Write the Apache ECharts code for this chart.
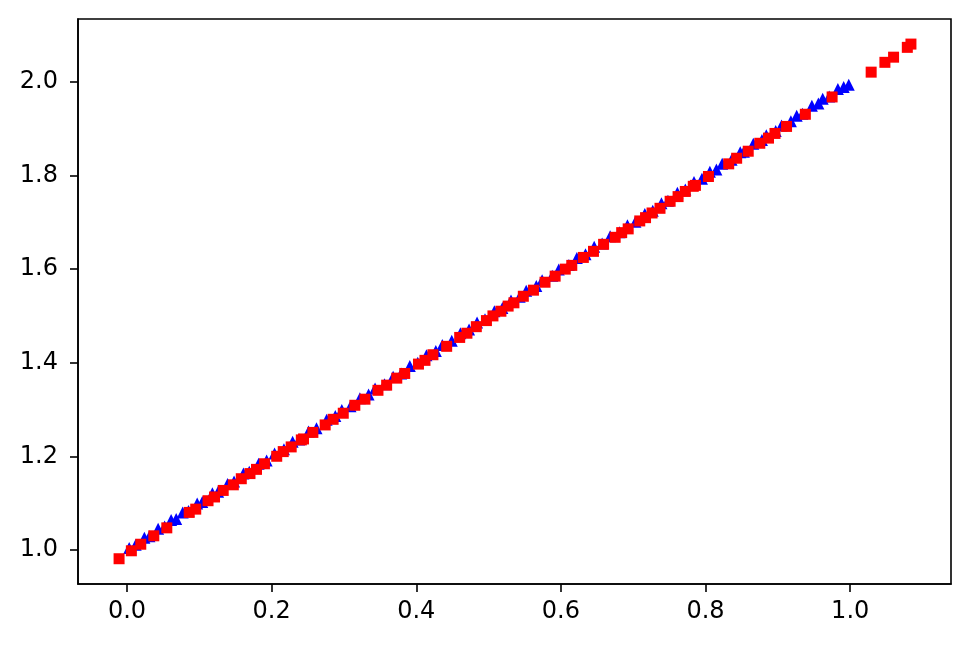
<!DOCTYPE html>
<html>
<head>
<meta charset="utf-8">
<script src="https://cdn.jsdelivr.net/npm/echarts@6/dist/echarts.min.js"></script>
<style>
  html, body { margin: 0; padding: 0; background: #fff; }
  #chart { width: 969px; height: 648px; }
</style>
</head>
<body>
<div id="chart"></div>
<script>
// tick positions
const xTicks = [0.0, 0.2, 0.4, 0.6, 0.8, 1.0];
const yTicks = [1.0, 1.2, 1.4, 1.6, 1.8, 2.0];

// blue triangles (x, y)
const bluePoints = [
  [0.003, 1.004], [0.012, 1.011], [0.024, 1.026], [0.031, 1.029], [0.043, 1.045],
  [0.052, 1.050], [0.061, 1.064], [0.068, 1.066], [0.077, 1.080], [0.085, 1.083],
  [0.097, 1.099], [0.104, 1.102], [0.118, 1.121], [0.126, 1.124], [0.139, 1.141],
  [0.148, 1.146], [0.161, 1.163], [0.169, 1.167], [0.182, 1.184], [0.193, 1.191],
  [0.204, 1.206], [0.217, 1.215], [0.229, 1.231], [0.238, 1.236], [0.251, 1.253],
  [0.262, 1.260], [0.276, 1.278], [0.288, 1.286], [0.297, 1.299], [0.309, 1.307],
  [0.322, 1.324], [0.334, 1.332], [0.343, 1.345], [0.356, 1.354], [0.368, 1.370],
  [0.379, 1.377], [0.391, 1.393], [0.402, 1.400], [0.414, 1.416], [0.427, 1.425],
  [0.436, 1.438], [0.449, 1.447], [0.461, 1.463], [0.473, 1.471], [0.484, 1.486],
  [0.495, 1.493], [0.508, 1.510], [0.519, 1.517], [0.531, 1.533], [0.543, 1.541],
  [0.552, 1.554], [0.566, 1.564], [0.574, 1.576], [0.588, 1.586], [0.597, 1.599],
  [0.611, 1.609], [0.622, 1.624], [0.634, 1.632], [0.646, 1.648], [0.657, 1.655],
  [0.668, 1.670], [0.681, 1.679], [0.692, 1.694], [0.703, 1.701], [0.716, 1.718],
  [0.727, 1.725], [0.739, 1.741], [0.748, 1.746], [0.761, 1.763], [0.772, 1.770],
  [0.784, 1.786], [0.795, 1.793], [0.806, 1.808], [0.815, 1.813], [0.823, 1.825],
  [0.836, 1.834], [0.848, 1.850], [0.853, 1.851], [0.866, 1.868], [0.878, 1.876],
  [0.884, 1.886], [0.897, 1.895], [0.905, 1.907], [0.918, 1.916], [0.926, 1.928],
  [0.934, 1.932], [0.947, 1.949], [0.956, 1.954], [0.962, 1.964], [0.971, 1.969],
  [0.983, 1.985], [0.991, 1.989], [0.998, 1.994]
];

// red squares (x, y)
const redPoints = [
  [-0.011, 0.981], [0.006, 0.998], [0.019, 1.012], [0.037, 1.030], [0.055, 1.047],
  [0.086, 1.080], [0.095, 1.087], [0.112, 1.105], [0.121, 1.113], [0.133, 1.127],
  [0.147, 1.139], [0.158, 1.152], [0.170, 1.163], [0.179, 1.172], [0.190, 1.184],
  [0.207, 1.200], [0.216, 1.210], [0.227, 1.220], [0.241, 1.235], [0.244, 1.237],
  [0.257, 1.251], [0.274, 1.267], [0.285, 1.279], [0.299, 1.292], [0.315, 1.309],
  [0.329, 1.322], [0.347, 1.341], [0.359, 1.352], [0.373, 1.367], [0.384, 1.377],
  [0.403, 1.397], [0.412, 1.405], [0.423, 1.417], [0.442, 1.435], [0.460, 1.454],
  [0.470, 1.463], [0.483, 1.477], [0.497, 1.490], [0.506, 1.500], [0.517, 1.510],
  [0.527, 1.521], [0.535, 1.528], [0.548, 1.542], [0.562, 1.555], [0.578, 1.572],
  [0.592, 1.585], [0.606, 1.600], [0.615, 1.608], [0.631, 1.625], [0.645, 1.638],
  [0.659, 1.653], [0.675, 1.668], [0.684, 1.678], [0.693, 1.686], [0.709, 1.703],
  [0.717, 1.710], [0.726, 1.720], [0.737, 1.730], [0.751, 1.745], [0.762, 1.755],
  [0.772, 1.766], [0.783, 1.777], [0.786, 1.779], [0.804, 1.798], [0.832, 1.825],
  [0.843, 1.837], [0.859, 1.852], [0.875, 1.869], [0.887, 1.880], [0.896, 1.890],
  [0.912, 1.905], [0.938, 1.931], [0.975, 1.968], [1.029, 2.021], [1.048, 2.042],
  [1.060, 2.053], [1.079, 2.074], [1.084, 2.081]
];

const chart = echarts.init(document.getElementById('chart'), null, { renderer: 'canvas' });

const axisCommon = {
  type: 'value',
  splitLine: { show: false },
  axisLine: { show: true, onZero: false, lineStyle: { color: '#000', width: 1.6 } },
  axisTick: { show: true, length: 8, lineStyle: { color: '#000', width: 1.6 } },
  axisLabel: {
    color: '#000',
    fontFamily: 'DejaVu Sans',
    fontSize: 24,
    formatter: (v) => v.toFixed(1)
  }
};

const option = {
  animation: false,
  backgroundColor: '#fff',
  grid: {
    left: 78, right: 18, top: 19, bottom: 64,
    show: true, borderColor: '#000', borderWidth: 1.6
  },
  xAxis: Object.assign({}, axisCommon, {
    min: -0.0678, max: 1.1394,
    axisTick: Object.assign({}, axisCommon.axisTick, { customValues: xTicks }),
    axisLabel: Object.assign({}, axisCommon.axisLabel, { customValues: xTicks, margin: 16 })
  }),
  yAxis: Object.assign({}, axisCommon, {
    min: 0.927, max: 2.1346,
    axisTick: Object.assign({}, axisCommon.axisTick, { customValues: yTicks }),
    axisLabel: Object.assign({}, axisCommon.axisLabel, { customValues: yTicks, margin: 20 })
  }),
  series: [
    {
      name: 'blue',
      type: 'scatter',
      symbol: 'triangle',
      symbolSize: 12,
      itemStyle: { color: '#0000ff', opacity: 1 },
      data: bluePoints
    },
    {
      name: 'red',
      type: 'scatter',
      symbol: 'rect',
      symbolSize: 11,
      itemStyle: { color: '#ff0000', opacity: 1 },
      data: redPoints
    }
  ]
};

chart.setOption(option);
</script>
</body>
</html>
